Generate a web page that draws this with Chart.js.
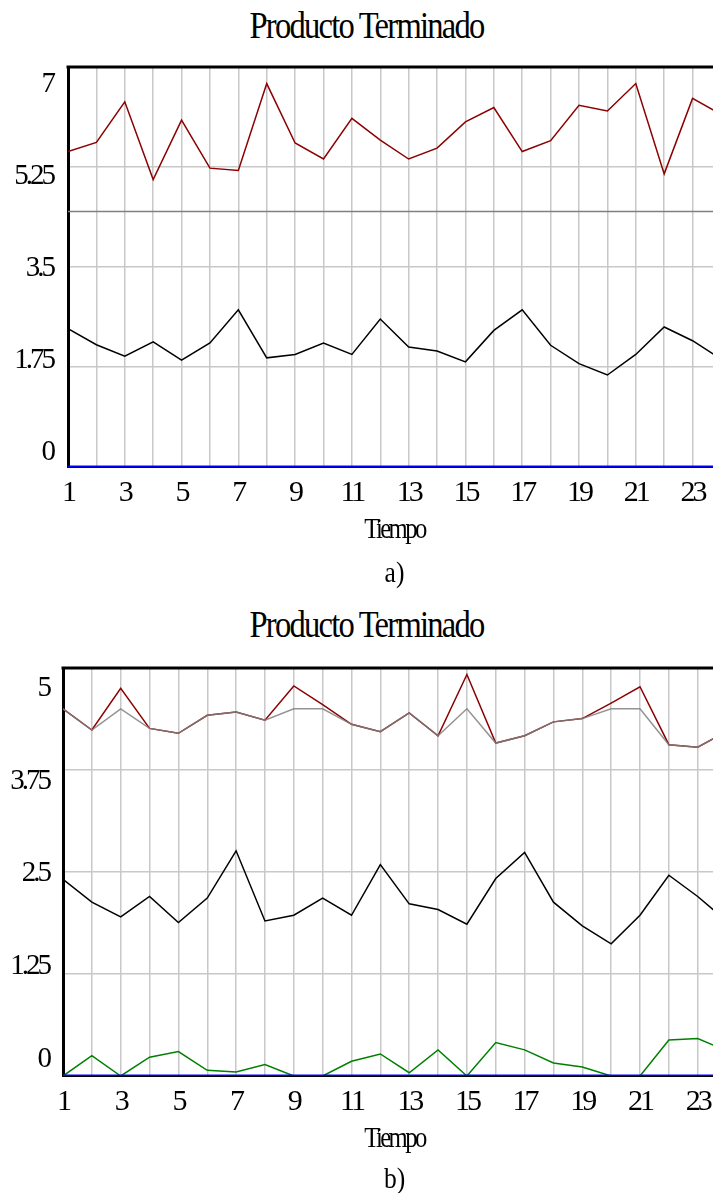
<!DOCTYPE html>
<html>
<head>
<meta charset="utf-8">
<script src="https://cdn.jsdelivr.net/npm/chart.js@4.4.1/dist/chart.umd.min.js"></script>
<style>
body { margin: 0; background: #fff; width: 713px; height: 1193px; overflow: hidden; position: relative; font-family: 'Liberation Serif', serif; }
canvas { position: absolute; left: 0; }
.t { position: absolute; left: 0; width: 713px; text-align: center; line-height: 1; color: #000; white-space: nowrap; }
.title { font-size: 37px; letter-spacing: -2px; transform: translateX(10px) scaleX(0.88); }
.xt { font-size: 29px; letter-spacing: -3px; transform: translateX(38px) scaleX(0.85); }
.cap { font-size: 30px; transform: translateX(38px) scaleX(0.85); }
</style>
</head>
<body>
<div class="t title" style="top:7px">Producto Terminado</div>
<canvas id="chartA" width="713" height="470" style="top:55px"></canvas>
<div class="t xt" style="top:514px">Tiempo</div>
<div class="t cap" style="top:557px">a)</div>

<div class="t title" style="top:606px">Producto Terminado</div>
<canvas id="chartB" width="713" height="475" style="top:655px"></canvas>
<div class="t xt" style="top:1123px">Tiempo</div>
<div class="t cap" style="top:1163px">b)</div>

<script>
const FONT = "'Liberation Serif', serif";

// tiempo (x) and tick values
const tiempo = [1,2,3,4,5,6,7,8,9,10,11,12,13,14,15,16,17,18,19,20,21,22,23,24];
const xTicks = [1,2,3,4,5,6,7,8,9,10,11,12,13,14,15,16,17,18,19,20,21,22,23];
const yTicksA = [0, 1.75, 3.5, 5.25, 7];
const yTicksB = [0, 1.25, 2.5, 3.75, 5];

// a) series
const rojoA  = [5.52,5.68,6.39,5.03,6.07,5.23,5.19,6.71,5.67,5.39,6.10,5.72,5.39,5.58,6.04,6.29,5.52,5.71,6.33,6.23,6.71,5.13,6.45,6.17];
const negroA = [2.42,2.14,1.94,2.19,1.87,2.17,2.75,1.91,1.97,2.17,1.97,2.59,2.10,2.03,1.84,2.39,2.75,2.13,1.81,1.61,1.97,2.45,2.21,1.89];
const grisA  = [4.47,4.47,4.47,4.47,4.47,4.47,4.47,4.47,4.47,4.47,4.47,4.47,4.47,4.47,4.47,4.47,4.47,4.47,4.47,4.47,4.47,4.47,4.47,4.47];
const azulA  = [0,0,0,0,0,0,0,0,0,0,0,0,0,0,0,0,0,0,0,0,0,0,0,0];

// b) series
const rojoB  = [4.50,4.24,4.75,4.26,4.20,4.42,4.46,4.36,4.78,4.55,4.31,4.22,4.45,4.17,4.92,4.08,4.17,4.34,4.38,4.57,4.77,4.06,4.03,4.22];
const grisB  = [4.50,4.24,4.50,4.26,4.20,4.42,4.46,4.36,4.50,4.50,4.31,4.22,4.45,4.17,4.50,4.08,4.17,4.34,4.38,4.50,4.50,4.06,4.03,4.22];
const negroB = [2.41,2.13,1.95,2.20,1.88,2.18,2.76,1.90,1.97,2.18,1.97,2.59,2.11,2.04,1.86,2.42,2.74,2.13,1.84,1.62,1.97,2.46,2.20,1.90];
const verdeB = [0,0.25,0,0.23,0.30,0.07,0.05,0.14,0,0,0.18,0.27,0.04,0.32,0,0.41,0.32,0.16,0.11,0,0,0.44,0.46,0.31];
const azulB  = [0,0,0,0,0,0,0,0,0,0,0,0,0,0,0,0,0,0,0,0,0,0,0,0];

const pts = arr => tiempo.map((t, i) => ({ x: t, y: arr[i] }));
const serie = (arr, color, width) => ({
    data: pts(arr), borderColor: color, borderWidth: width || 1.5,
    pointRadius: 0, fill: false, tension: 0
});

// top frame line + tight tick text
const frame = {
    id: 'frame',
    beforeDraw(chart) { chart.ctx.letterSpacing = '-3px'; },
    afterDatasetsDraw(chart) {
        const { ctx, chartArea: a } = chart;
        ctx.save();
        ctx.strokeStyle = '#000';
        ctx.lineWidth = 3;
        ctx.beginPath();
        ctx.moveTo(a.left - 1.5, a.top);
        ctx.lineTo(a.right, a.top);
        ctx.stroke();
        ctx.restore();
    }
};

const noPad = s => { s.paddingTop = 0; s.paddingBottom = 0; s.paddingLeft = 0; s.paddingRight = 0; };

function makeChart(id, datasets, o) {
    return new Chart(document.getElementById(id), {
        type: 'line',
        data: { datasets },
        plugins: [frame],
        options: {
            responsive: false,
            animation: false,
            events: [],
            layout: { padding: { top: o.padTop, left: 0, right: 0, bottom: 0 } },
            plugins: { legend: { display: false }, tooltip: { enabled: false } },
            scales: {
                x: {
                    type: 'linear', min: 1, max: o.xMax,
                    afterBuildTicks: s => { s.ticks = xTicks.map(v => ({ value: v })); },
                    afterFit: s => { s.height = o.xHeight; noPad(s); },
                    grid: { color: '#c8c8c8', lineWidth: 1.5, drawTicks: false },
                    border: { color: '#000', width: 2 },
                    ticks: {
                        padding: 8, autoSkip: false, maxRotation: 0, color: '#000',
                        font: { family: FONT, size: 30 },
                        callback: v => (v % 2 === 1 ? String(v) : '')
                    }
                },
                y: {
                    min: 0, max: o.yMax,
                    afterBuildTicks: s => { s.ticks = o.yTicks.map(v => ({ value: v })); },
                    afterFit: s => { s.width = 0; noPad(s); },
                    grid: { color: '#c8c8c8', lineWidth: 1.5, drawTicks: false },
                    border: { color: '#000', width: 3 },
                    ticks: { display: false }
                },
                yl: {
                    position: 'left', min: o.lMin, max: o.lMax,
                    afterBuildTicks: s => { s.ticks = o.yTicks.map(v => ({ value: v })); },
                    afterFit: s => { s.width = o.yWidth; noPad(s); },
                    grid: { display: false, drawTicks: false },
                    border: { display: false },
                    ticks: {
                        padding: o.yPad, color: '#000',
                        font: { family: FONT, size: 29 },
                        callback: v => String(v)
                    }
                }
            }
        }
    });
}

makeChart('chartA', [
    serie(azulA, '#0000ff', 3),
    serie(grisA, '#808080'),
    serie(rojoA, '#8b0000'),
    serie(negroA, '#000000')
], { padTop: 12, xHeight: 58, xMax: 23.72, yMax: 7, yTicks: yTicksA, lMin: -0.285, lMax: 7.323, yWidth: 68, yPad: 15 });

makeChart('chartB', [
    serie(azulB, '#0000ff', 3),
    serie(grisB, 'rgba(128,128,128,0.85)'),
    serie(rojoB, '#8b0000'),
    serie(negroB, '#000000'),
    serie(verdeB, '#008000')
], { padTop: 13, xHeight: 54, xMax: 23.53, yMax: 5, yTicks: yTicksB, lMin: -0.229, lMax: 5.277, yWidth: 63, yPad: 14 });
</script>
</body>
</html>
